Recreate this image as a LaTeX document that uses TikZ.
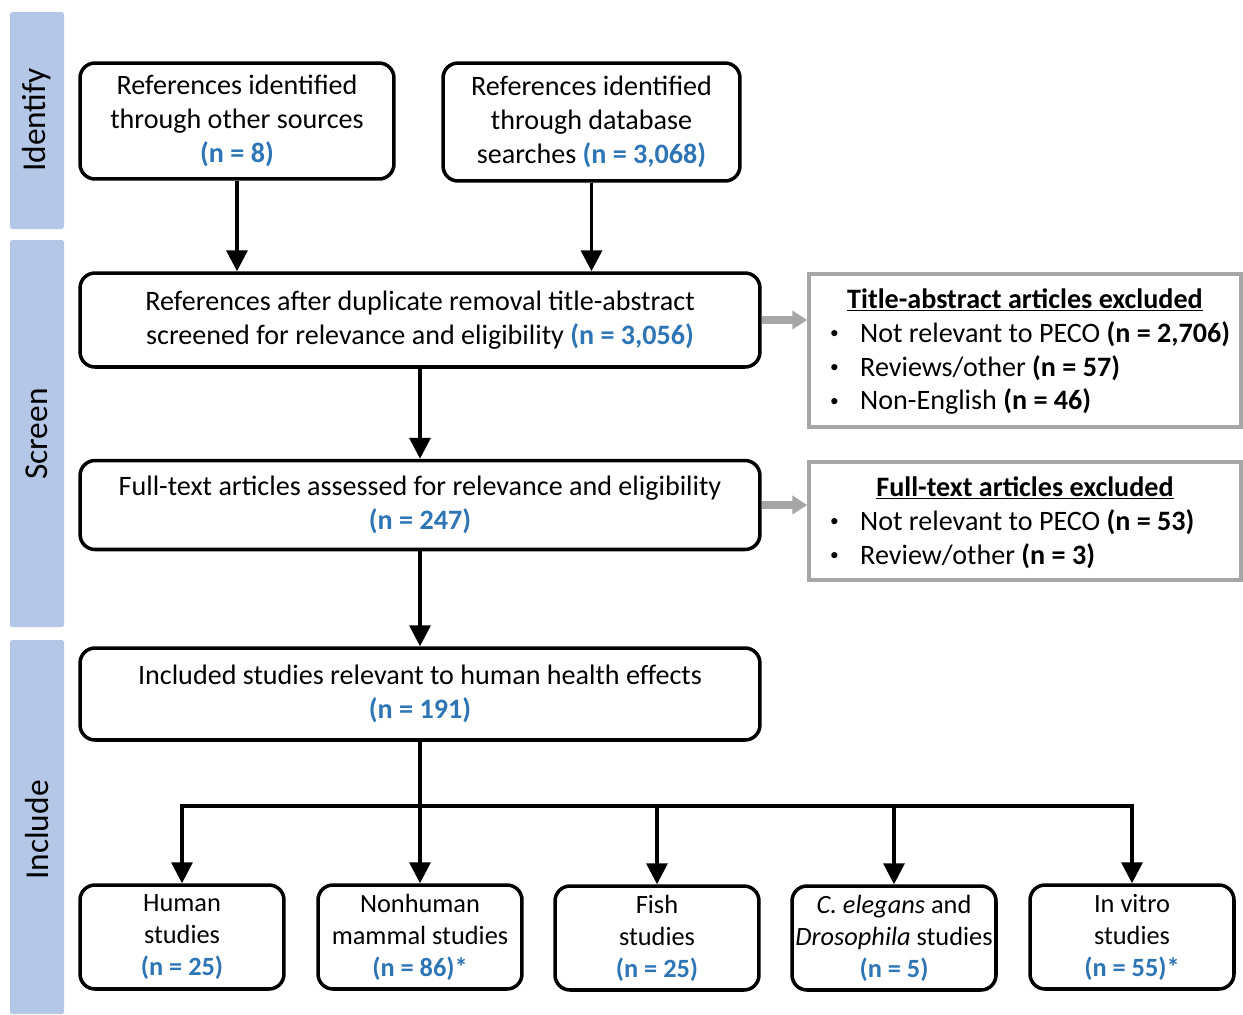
\documentclass[tikz,border=0pt]{standalone}
\usepackage{fontspec}
\setmainfont{Carlito}
\usetikzlibrary{arrows.meta}
\definecolor{bandblue}{HTML}{B4C7E7}
\definecolor{countblue}{HTML}{2E75B6}
\definecolor{exgray}{HTML}{A6A6A6}
\newcommand{\cnt}[1]{\textcolor{countblue}{\textbf{#1}}}
\newcommand{\bul}{\makebox[0.6cm][l]{\raisebox{0.12em}{\scalebox{0.62}{\textbullet}}}}
\begin{document}
\begin{tikzpicture}[x=0.02cm,y=-0.02cm,
		stage/.style={draw,line width=2pt,rounded corners=0.3cm,align=center,inner sep=0pt,font=\fontsize{16}{19.3}\selectfont},
		smallstage/.style={stage,minimum width=4.08cm,minimum height=2.08cm,font=\fontsize{15}{18.2}\selectfont},
		exbox/.style={draw=exgray,line width=2pt,minimum width=8.64cm,inner sep=0pt},
		band/.style={fill=bandblue,rounded corners=1pt},
		bandlabel/.style={rotate=90,font=\fontsize{19}{22}\selectfont},
		flow/.style={line width=2pt,-{Triangle[length=0.42cm,width=0.42cm]}},
		skip/.style={exgray,line width=4pt,-{Triangle[length=0.3cm,width=0.36cm]}}]
			\useasboundingbox (0,0) rectangle (1243,1014);

			% stage bands
			\fill[band] (10,12) rectangle (64,229);
			\fill[band] (10,240) rectangle (64,627);
			\fill[band] (10,640) rectangle (64,1014);
			\node (lidentify) at (37,120)[bandlabel]{Identify};
			\node (lscreen) at (37,434)[bandlabel]{Screen};
			\node (linclude) at (37,830)[bandlabel]{Include};

			% main flow
			\node (other) at (237,121)[stage,minimum width=6.28cm,minimum height=2.32cm]{References identified\\through other sources\\\cnt{(n = 8)}};
			\node (database) at (591.5,122)[stage,minimum width=5.94cm,minimum height=2.36cm]{References identified\\through database\\searches \cnt{(n = 3,068)}};
			\node (dedup) at (420,320)[stage,minimum width=13.6cm,minimum height=1.88cm]{References after duplicate removal title-abstract\\screened for relevance and eligibility \cnt{(n = 3,056)}};
			\node (fulltext) at (420,505)[stage,minimum width=13.6cm,minimum height=1.78cm]{Full-text articles assessed for relevance and eligibility\\\cnt{(n = 247)}};
			\node (included) at (420,694)[stage,minimum width=13.6cm,minimum height=1.84cm]{Included studies relevant to human health effects\\\cnt{(n = 191)}};

			\node (human) at (182,937)[smallstage]{Human\\studies\\\cnt{(n = 25)}};
			\node (nonhuman) at (420,937)[smallstage]{Nonhuman\\mammal studies\\\cnt{(n = 86)*}};
			\node (fish) at (657,938)[smallstage]{Fish\\studies\\\cnt{(n = 25)}};
			\node (elegans) at (894,938)[smallstage]{\textit{C. elegans} and\\\textit{Drosophila} studies\\\cnt{(n = 5)}};
			\node (invitro) at (1132,937)[smallstage]{In vitro\\studies\\\cnt{(n = 55)*}};

			% exclusions
			\node (exta) at (1025,350.5)[exbox,minimum height=3.06cm]{};
			\node (extatitle) at (1025,300)[font=\fontsize{16}{19.3}\selectfont]{\underline{\textbf{Title-abstract articles excluded}}};
			\node (extalist) at (824,368)[anchor=west,align=left,font=\fontsize{16}{19.3}\selectfont]{\bul Not relevant to PECO \textbf{(n = 2,706)}\\\bul Reviews/other \textbf{(n = 57)}\\\bul Non-English \textbf{(n = 46)}};

			\node (exft) at (1025,521)[exbox,minimum height=2.36cm]{};
			\node (exfttitle) at (1025,488)[font=\fontsize{16}{19.3}\selectfont]{\underline{\textbf{Full-text articles excluded}}};
			\node (exftlist) at (824,539)[anchor=west,align=left,font=\fontsize{16}{19.3}\selectfont]{\bul Not relevant to PECO \textbf{(n = 53)}\\\bul Review/other \textbf{(n = 3)}};

			% connectors
			\draw[flow] (other.south) -- (other.south |- dedup.north);
			\draw[flow] (database.south) -- (database.south |- dedup.north);
			\draw[flow] (dedup) -- (fulltext);
			\draw[flow] (fulltext) -- (included);
			\draw[skip] (dedup.east) -- (dedup.east -| exta.west);
			\draw[skip] (fulltext.east) -- (fulltext.east -| exft.west);

			\coordinate (split) at (420,806);
			\draw[line width=2pt] (included.south) -- (split);
			\draw[line width=2pt,line cap=rect] (human.north |- split) -- (invitro.north |- split);
			\foreach \b in {human,nonhuman,fish,elegans,invitro}
				\draw[flow] (\b.north |- split) -- (\b.north);
		\end{tikzpicture}
\end{document}
